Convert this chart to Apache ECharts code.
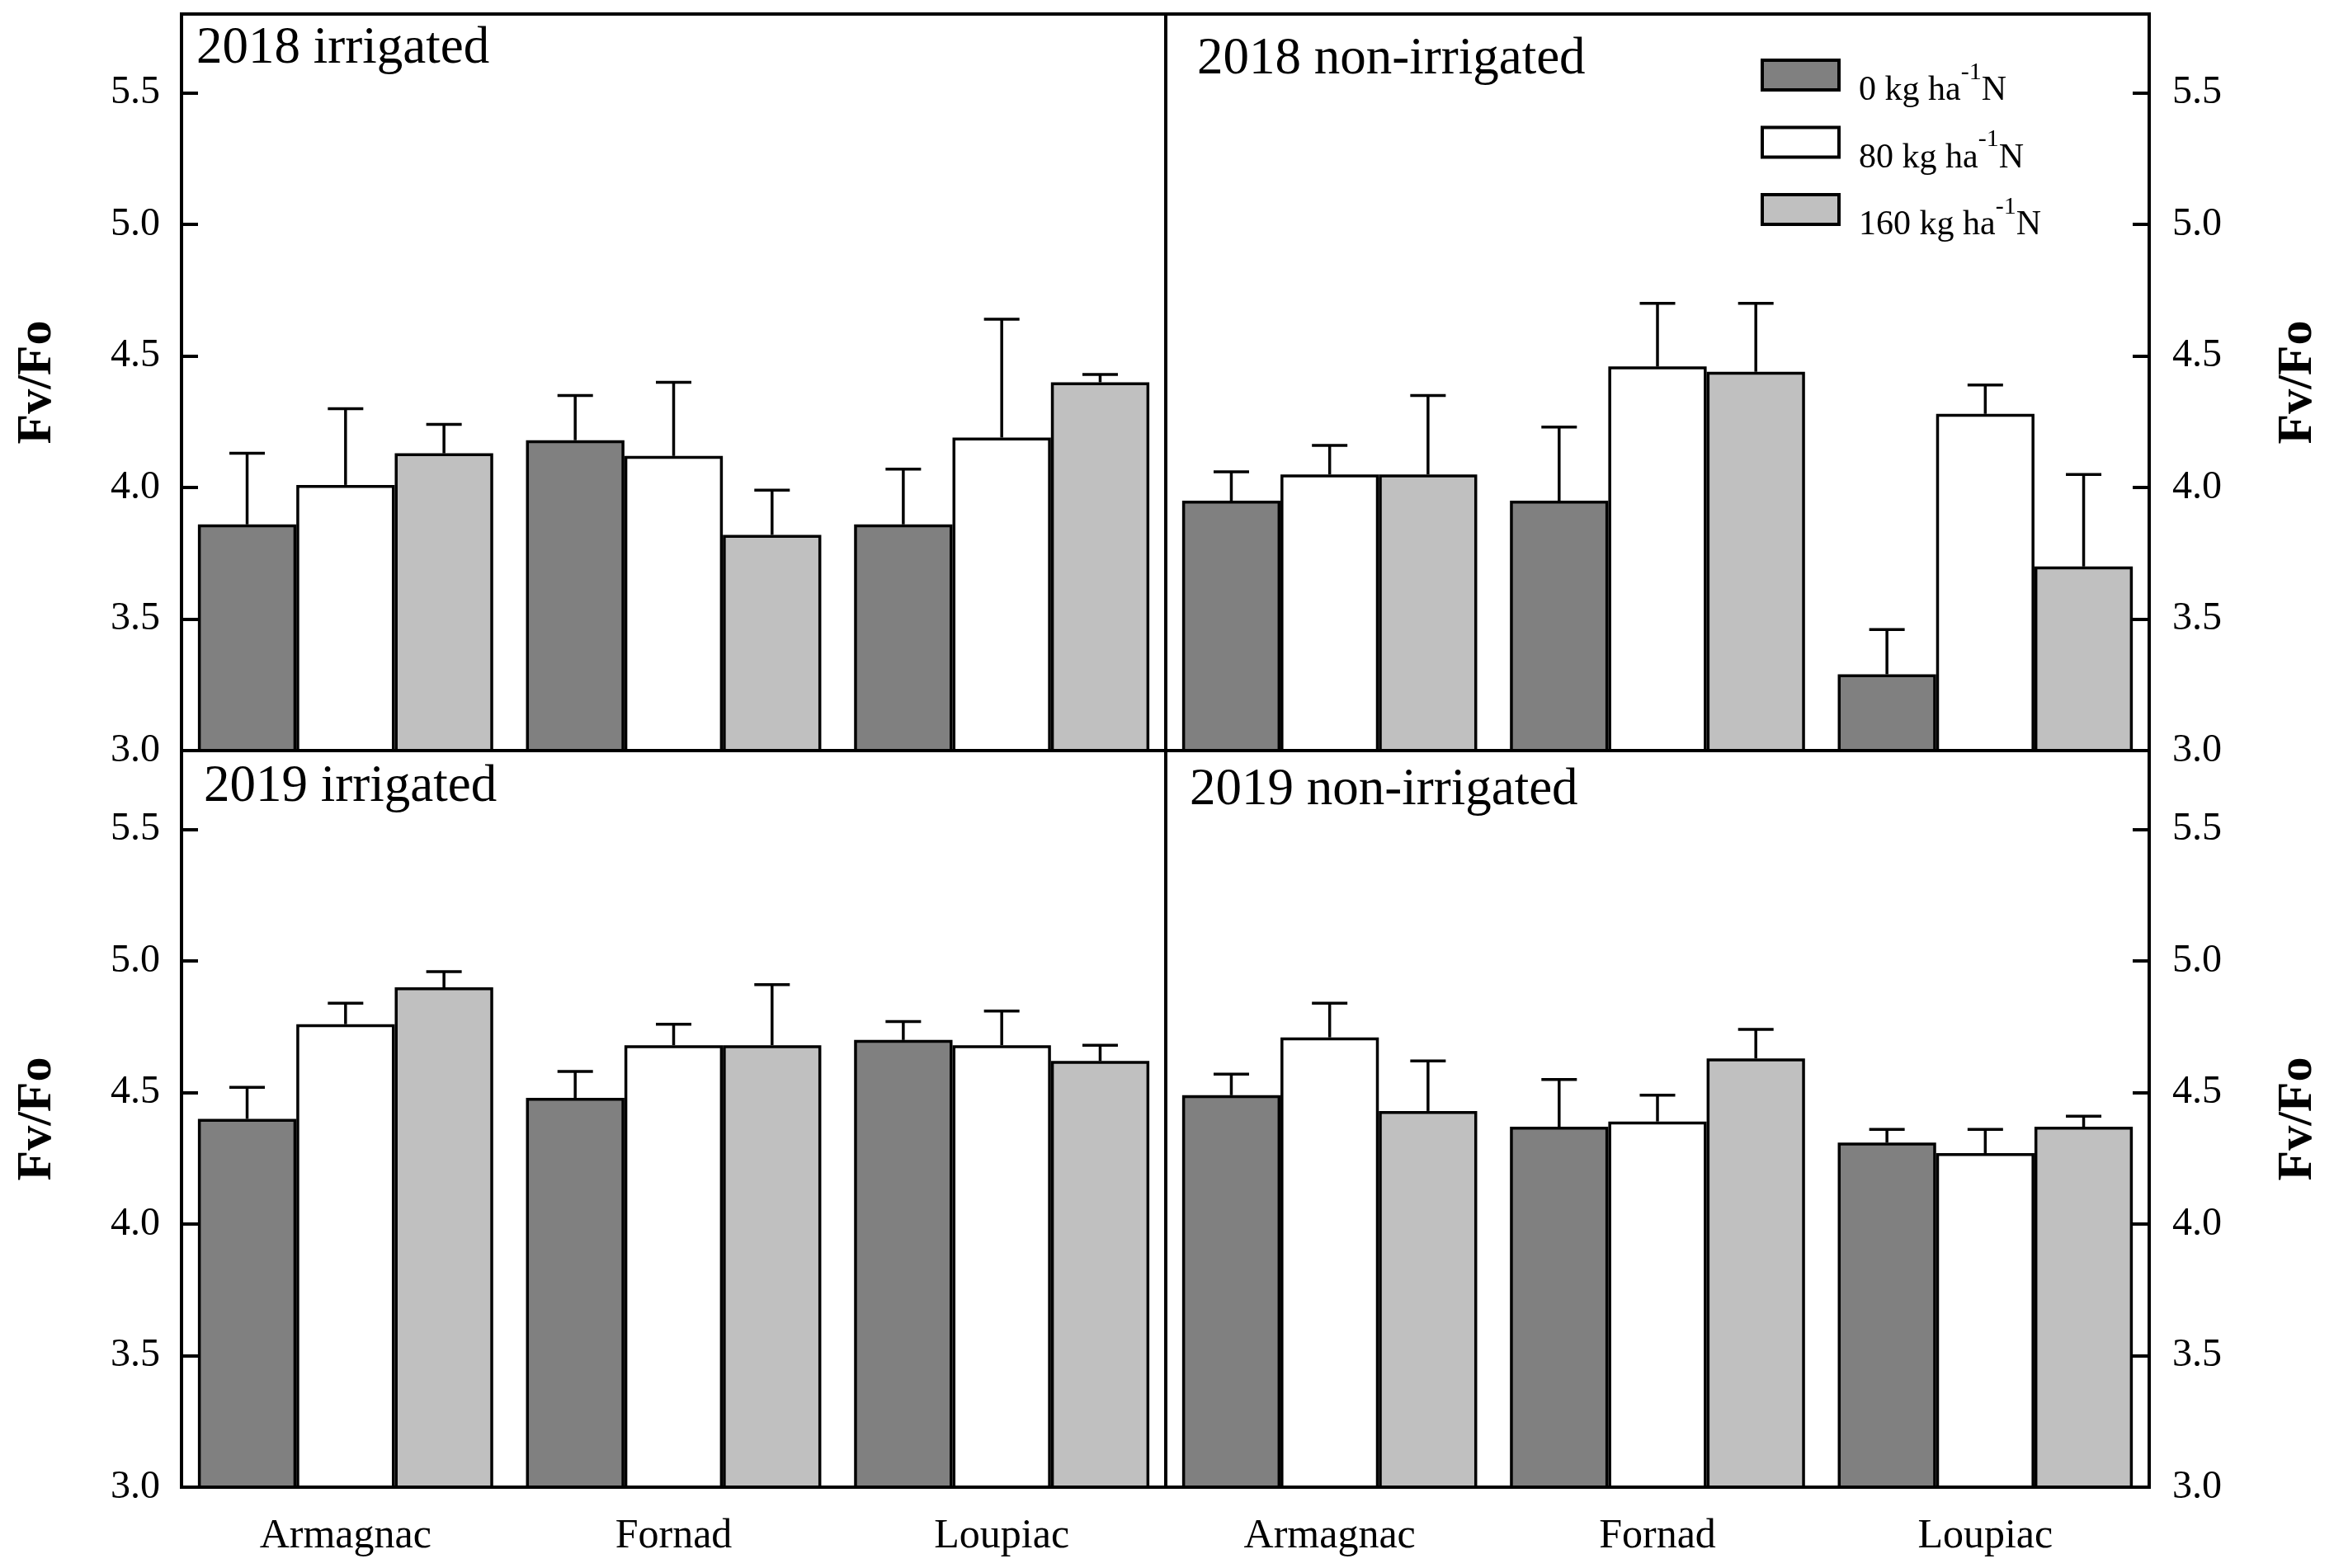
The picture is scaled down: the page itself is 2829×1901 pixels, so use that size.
<!DOCTYPE html>
<html><head><meta charset="utf-8">
<script src="https://cdn.jsdelivr.net/npm/echarts@6/dist/echarts.min.js"></script>
<style>html,body{margin:0;padding:0;background:#fff}#c{width:2829px;height:1901px}</style>
</head><body><div id="c"></div>
<script>
// ---------------- data ----------------
const cultivars = ['Armagnac', 'Fornad', 'Loupiac'];
const nLevels = ['0', '80', '160'];
const seriesNames = ['0 kg ha-1N', '80 kg ha-1N', '160 kg ha-1N'];
const panelTitles = ['2018 irrigated', '2018 non-irrigated', '2019 irrigated', '2019 non-irrigated'];
const yMin = 3.0, yMax = 5.8, yStep = 0.5;
const levelColors = ['#808080', '#ffffff', '#c0c0c0'];

// means: [N level][cultivar]
const mean2018Irr = [[3.86, 4.18, 3.86], [4.01, 4.12, 4.19], [4.13, 3.82, 4.40]];
const se2018Irr   = [[0.27, 0.17, 0.21], [0.29, 0.28, 0.45], [0.11, 0.17, 0.03]];
const mean2018Non = [[3.95, 3.95, 3.29], [4.05, 4.46, 4.28], [4.05, 4.44, 3.70]];
const se2018Non   = [[0.11, 0.28, 0.17], [0.11, 0.24, 0.11], [0.30, 0.26, 0.35]];
const mean2019Irr = [[4.40, 4.48, 4.70], [4.76, 4.68, 4.68], [4.90, 4.68, 4.62]];
const se2019Irr   = [[0.12, 0.10, 0.07], [0.08, 0.08, 0.13], [0.06, 0.23, 0.06]];
const mean2019Non = [[4.49, 4.37, 4.31], [4.71, 4.39, 4.27], [4.43, 4.63, 4.37]];
const se2019Non   = [[0.08, 0.18, 0.05], [0.13, 0.10, 0.09], [0.19, 0.11, 0.04]];

const panelMeans = [mean2018Irr, mean2018Non, mean2019Irr, mean2019Non];
const panelSEs = [se2018Irr, se2018Non, se2019Irr, se2019Non];

// ---------------- layout ----------------
const FONT = 'Liberation Serif';
const grids = [
  {left: 220, top: 17, width: 1193, height: 893},
  {left: 1413, top: 17, width: 1192, height: 893},
  {left: 220, top: 910, width: 1193, height: 893},
  {left: 1413, top: 910, width: 1192, height: 893}
];
const titlePos = [[238, 28], [1451, 41], [247, 923], [1442, 927]];
const legendTops = [71, 152.5, 234];

const chart = echarts.init(document.getElementById('c'), null, {renderer: 'canvas'});

function errRender(lvl) {
  return function (params, api) {
    const cat = api.value(0), m = api.value(1), s = api.value(2);
    const base = api.coord([cat, m]);
    const top = api.coord([cat, m + s]);
    const cw = api.size([1, 0])[0];
    const bw = cw * 0.9 / 3;
    const x = base[0] + (lvl - 1) * bw;
    const half = 21.5;
    const st = {stroke: '#000', lineWidth: 3.5};
    return {type: 'group', children: [
      {type: 'line', shape: {x1: x, y1: base[1], x2: x, y2: top[1]}, style: st},
      {type: 'line', shape: {x1: x - half, y1: top[1], x2: x + half, y2: top[1]}, style: st}
    ]};
  };
}

const xAxes = [], yAxes = [], series = [];
grids.forEach((g, p) => {
  const bottomRow = p >= 2;
  const rightCol = p % 2 === 1;
  xAxes.push({
    gridIndex: p, type: 'category', data: cultivars,
    axisLine: {show: true, lineStyle: {color: '#000', width: 4}},
    axisTick: {show: false},
    axisLabel: {show: bottomRow, fontFamily: FONT, fontSize: 50, color: '#000', margin: 35},
    splitLine: {show: false}, z: 5
  });
  yAxes.push({
    gridIndex: p, type: 'value', min: yMin, max: yMax, interval: yStep,
    position: rightCol ? 'right' : 'left',
    name: 'Fv/Fo', nameLocation: 'middle', nameRotate: 90,
    nameGap: rightCol ? 150 : 145,
    nameTextStyle: {fontFamily: FONT, fontSize: 60, fontWeight: 'bold', color: '#000'},
    axisLine: {show: true, onZero: false, lineStyle: {color: '#000', width: 4}},
    axisTick: {show: true, inside: true, length: 20, lineStyle: {color: '#000', width: 4}},
    axisLabel: {fontFamily: FONT, fontSize: 48, color: '#000', margin: rightCol ? 28 : 26,
      showMaxLabel: false, formatter: v => v.toFixed(1)},
    splitLine: {show: false}, z: 5
  });
  nLevels.forEach((n, i) => {
    series.push({
      name: seriesNames[i], type: 'bar', xAxisIndex: p, yAxisIndex: p,
      data: panelMeans[p][i],
      barGap: '0%', barCategoryGap: '10%',
      itemStyle: {color: levelColors[i], borderColor: '#000', borderWidth: 3.5},
      emphasis: {disabled: true}, z: 2
    });
  });
  nLevels.forEach((n, i) => {
    series.push({
      type: 'custom', xAxisIndex: p, yAxisIndex: p,
      data: cultivars.map((c, k) => [k, panelMeans[p][i][k], panelSEs[p][i][k]]),
      renderItem: errRender(i), z: 3, silent: true
    });
  });
});

const legends = seriesNames.map((nm, i) => ({
  data: [nm], orient: 'vertical', left: 2134, top: legendTops[i], padding: 0,
  icon: 'rect', itemWidth: 93, itemHeight: 36,
  itemStyle: {borderColor: '#000', borderWidth: 4},
  selectedMode: false,
  formatter: name => '{t|' + nLevels[i] + ' kg ha}{s|-1}{t|N}',
  textStyle: {
    padding: [34, 0, 0, 19],
    rich: {
      t: {fontFamily: FONT, fontSize: 42, lineHeight: 46, color: '#000', verticalAlign: 'bottom'},
      s: {fontFamily: FONT, fontSize: 30, lineHeight: 30, color: '#000', verticalAlign: 'bottom', padding: [0, 0, 28, 0]}
    }
  }
}));

const titles = panelTitles.map((t, p) => ({
  text: t, left: titlePos[p][0], top: titlePos[p][1], padding: 0,
  textStyle: {fontFamily: FONT, fontSize: 63, fontWeight: 'normal', color: '#000'}
}));

chart.setOption({
  animation: false,
  backgroundColor: '#fff',
  title: titles,
  legend: legends,
  grid: grids.map(g => Object.assign({show: true, borderColor: '#000', borderWidth: 4, backgroundColor: 'transparent', containLabel: false}, g)),
  xAxis: xAxes,
  yAxis: yAxes,
  series: series
});
</script></body></html>
